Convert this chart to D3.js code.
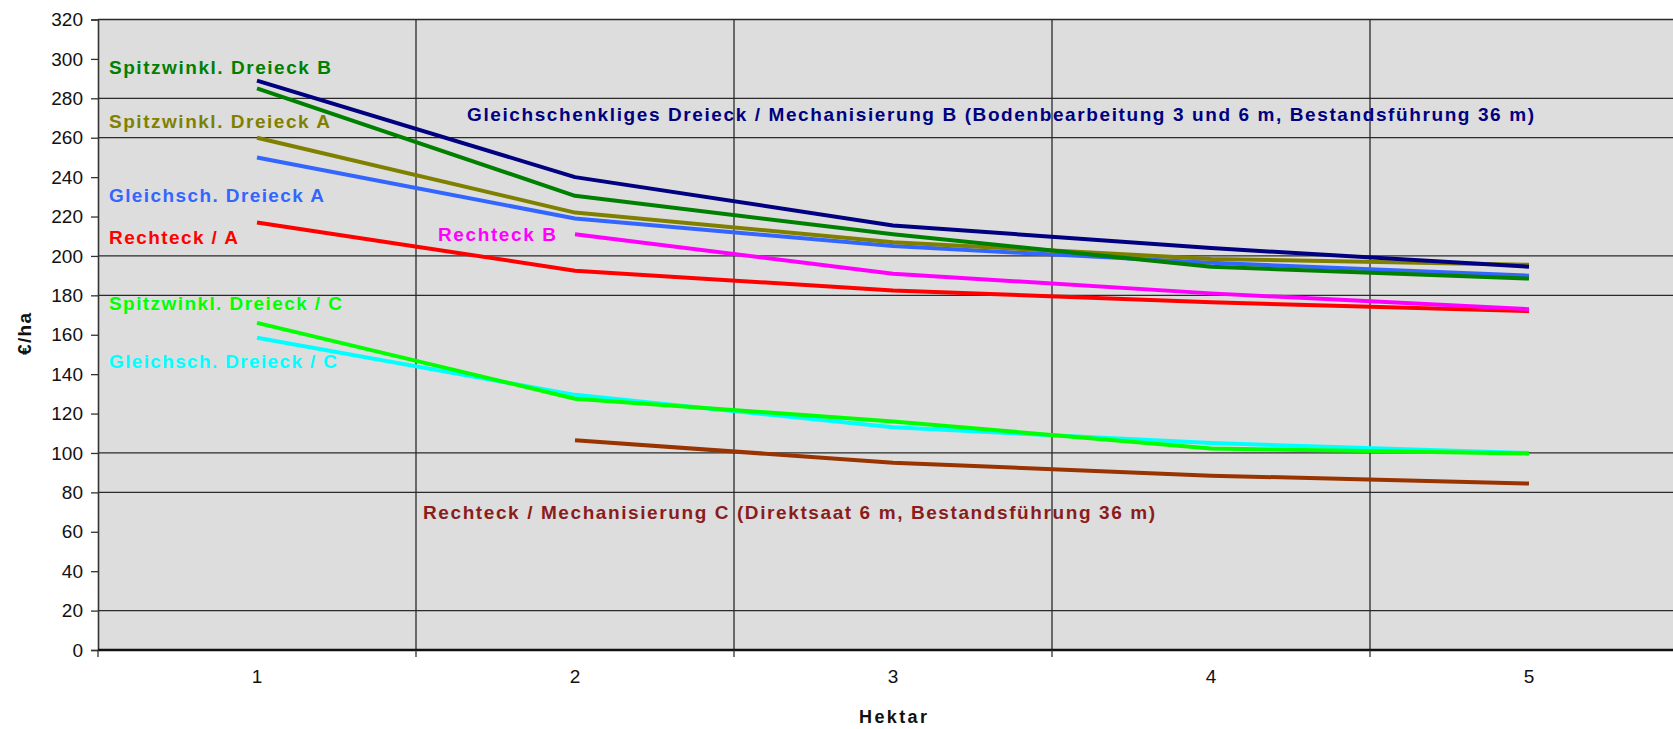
<!DOCTYPE html>
<html>
<head>
<meta charset="utf-8">
<script src="https://cdn.jsdelivr.net/npm/d3@7"></script>
<style>
  html, body { margin: 0; padding: 0; background: #ffffff; }
  svg { display: block; font-family: "Liberation Sans", Arial, sans-serif; }
</style>
</head>
<body>
<svg id="chart" width="1673" height="729"></svg>
<script>
// ---------- data ----------
const categories = ["1", "2", "3", "4", "5"];
const yTicks = [0, 20, 40, 60, 80, 100, 120, 140, 160, 180, 200, 220, 240, 260, 280, 300, 320];
const yGridValues = [20, 80, 100, 180, 200, 260, 280, 320];

const gleichschB      = [289, 240, 215.5, 204, 194.5];
const spitzwinklB     = [285, 230.5, 211, 194.5, 188.5];
const spitzwinklA     = [260, 222, 207, 198.5, 195.5];
const gleichschA      = [250, 219, 205, 196.5, 190];
const rechteckA       = [217, 192.5, 182.5, 176.5, 172];
const rechteckB       = [null, 211, 191, 181, 173];
const spitzwinklC     = [166, 127.5, 116, 102.3, 99.7];
const gleichschC      = [158.5, 129.5, 113, 105, 100];
const rechteckMechC   = [null, 106.5, 95, 88.5, 84.5];

const seriesNames = [
  "Gleichschenkliges Dreieck / Mechanisierung B (Bodenbearbeitung 3 und 6 m, Bestandsführung 36 m)",
  "Spitzwinkl. Dreieck B",
  "Spitzwinkl. Dreieck A",
  "Gleichsch. Dreieck A",
  "Rechteck / A",
  "Rechteck B",
  "Spitzwinkl. Dreieck / C",
  "Gleichsch. Dreieck / C",
  "Rechteck / Mechanisierung C (Direktsaat 6 m, Bestandsführung 36 m)"
];
const seriesValues = [gleichschB, spitzwinklB, spitzwinklA, gleichschA, rechteckA, rechteckB, spitzwinklC, gleichschC, rechteckMechC];
const yTitle = "€/ha";
const xTitle = "Hektar";

// ---------- styling / layout (kept separate from the data) ----------
const lineColors  = ["#000080", "#008000", "#808000", "#3366FF", "#FF0000", "#FF00FF", "#00FF00", "#00FFFF", "#993300"];
const labelColors = ["#000080", "#008000", "#808000", "#3366FF", "#FF0000", "#FF00FF", "#00FF00", "#00FFFF", "#8A1C1C"];
// label placement: [left x, baseline y, text length]
const labelLayout = [
  [467, 121, 1067],
  [109, 74, 222],
  [109, 128, 221],
  [109, 202, 215],
  [109, 244, 129],
  [438, 241, 118],
  [109, 310, 233],
  [109, 368, 228],
  [423, 519, 732]
];
// draw order (bottom to top)
const drawOrder = [8, 7, 6, 4, 5, 3, 2, 1, 0];

const svg = d3.select("#chart");
const plot = { left: 98, right: 1688, top: 19.5, bottom: 650 };

const x = d3.scaleBand().domain(categories).range([plot.left, plot.right]).paddingInner(0).paddingOuter(0);
const y = d3.scaleLinear().domain([0, 320]).range([plot.bottom, plot.top]);
const cx = c => x(c) + x.bandwidth() / 2;

// plot background
svg.append("rect")
  .attr("x", plot.left).attr("y", plot.top)
  .attr("width", plot.right - plot.left).attr("height", plot.bottom - plot.top)
  .attr("fill", "#DDDDDD");

// horizontal gridlines
svg.append("g").selectAll("line").data(yGridValues).join("line")
  .attr("x1", plot.left).attr("x2", plot.right)
  .attr("y1", d => y(d)).attr("y2", d => y(d))
  .attr("stroke", "#2a2a2a").attr("stroke-width", 1.3);

// vertical gridlines at category boundaries
const boundaries = categories.slice(1).map(c => x(c));
svg.append("g").selectAll("line").data(boundaries).join("line")
  .attr("x1", d => d).attr("x2", d => d)
  .attr("y1", plot.top).attr("y2", plot.bottom)
  .attr("stroke", "#2a2a2a").attr("stroke-width", 1.3);

// y axis
const yAxis = d3.axisLeft(y).tickValues(yTicks).tickSize(7).tickPadding(8).tickFormat(d3.format("d"));
const gy = svg.append("g").attr("transform", `translate(${plot.left},0)`).call(yAxis);
gy.select(".domain").attr("stroke", "#333").attr("stroke-width", 1.6);
gy.selectAll(".tick line").attr("stroke", "#333").attr("stroke-width", 1.3);
gy.selectAll(".tick text").attr("font-size", 19).attr("fill", "#111")
  .attr("font-family", "Liberation Sans, Arial, sans-serif");

// x axis
const xAxis = d3.axisBottom(x).tickSize(0).tickPadding(20);
const gx = svg.append("g").attr("transform", `translate(0,${plot.bottom})`).call(xAxis);
gx.select(".domain").remove();
gx.selectAll(".tick text").attr("font-size", 19).attr("fill", "#111")
  .attr("font-family", "Liberation Sans, Arial, sans-serif");
gx.append("line").attr("x1", plot.left).attr("x2", plot.right).attr("y1", 0).attr("y2", 0)
  .attr("stroke", "#111").attr("stroke-width", 2.4);
gx.selectAll(".bt").data([plot.left].concat(boundaries)).join("line").attr("class", "bt")
  .attr("x1", d => d).attr("x2", d => d).attr("y1", 0).attr("y2", 7)
  .attr("stroke", "#333").attr("stroke-width", 1.3);

// lines
const lineGen = d3.line()
  .defined(d => d.v !== null)
  .x(d => cx(d.c))
  .y(d => y(d.v));

svg.append("g").selectAll("path").data(drawOrder).join("path")
  .attr("d", i => lineGen(seriesValues[i].map((v, k) => ({ c: categories[k], v }))))
  .attr("fill", "none")
  .attr("stroke", i => lineColors[i])
  .attr("stroke-width", 4)
  .attr("stroke-linejoin", "round")
  .attr("stroke-linecap", "butt");

// series labels
svg.append("g").selectAll("text").data(seriesNames.map((n, i) => i)).join("text")
  .attr("x", i => labelLayout[i][0])
  .attr("y", i => labelLayout[i][1])
  .attr("textLength", i => labelLayout[i][2])
  .attr("lengthAdjust", "spacing")
  .attr("font-size", 19)
  .attr("font-weight", "bold")
  .attr("fill", i => labelColors[i])
  .text(i => seriesNames[i]);

// axis titles
svg.append("text")
  .attr("transform", "translate(31,334) rotate(-90)")
  .attr("text-anchor", "middle")
  .attr("font-size", 19).attr("font-weight", "bold").attr("fill", "#111")
  .attr("textLength", 42).attr("lengthAdjust", "spacing")
  .text(yTitle);

svg.append("text")
  .attr("x", 893).attr("y", 723)
  .attr("text-anchor", "middle")
  .attr("font-size", 18).attr("font-weight", "bold").attr("fill", "#111")
  .attr("textLength", 68).attr("lengthAdjust", "spacing")
  .text(xTitle);
</script>
</body>
</html>
